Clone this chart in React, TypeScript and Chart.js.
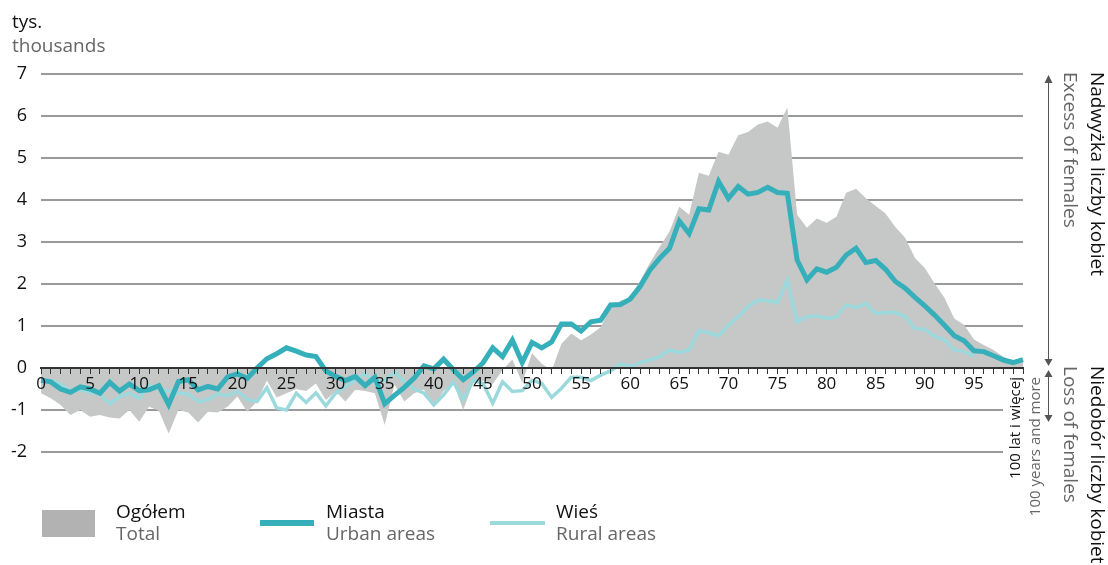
import React, { useEffect, useRef } from "react";
import { Chart, registerables } from "chart.js";

Chart.register(...registerables);

// Age groups 0..100 (100 = "100 lat i więcej")
const AGES: number[] = Array.from({ length: 101 }, (_, i) => i);
const AGE_LABELS: string[] = AGES.map((a) => String(a));

// Miasta / Urban areas (thousands)
const URBAN: number[] = [
  -0.29, -0.33, -0.5, -0.58, -0.45, -0.5, -0.6, -0.34, -0.55, -0.38, -0.54,
  -0.52, -0.42, -0.87, -0.32, -0.28, -0.52, -0.44, -0.5, -0.21, -0.14,
  -0.25, 0.0, 0.22, 0.34, 0.48, 0.4, 0.31, 0.27, -0.07, -0.2,
  -0.3, -0.2, -0.42, -0.22, -0.85, -0.65, -0.46, -0.24, 0.05, -0.02,
  0.21, -0.04, -0.28, -0.1, 0.12, 0.48, 0.27, 0.66, 0.13, 0.61,
  0.48, 0.62, 1.05, 1.05, 0.88, 1.1, 1.14, 1.5, 1.51, 1.64,
  1.94, 2.33, 2.61, 2.85, 3.5, 3.2, 3.79, 3.76, 4.44, 4.04,
  4.32, 4.14, 4.18, 4.3, 4.18, 4.16, 2.57, 2.1, 2.36, 2.28,
  2.4, 2.69, 2.85, 2.51, 2.56, 2.35, 2.06, 1.9, 1.68, 1.48,
  1.26, 1.02, 0.77, 0.65, 0.41, 0.39, 0.29, 0.19, 0.13, 0.2,
];

// Wieś / Rural areas (thousands)
const RURAL: (number | null)[] = [
  -0.3, -0.3, -0.38, -0.55, -0.52, -0.58, -0.62, -0.85, -0.68, -0.6, -0.72,
  -0.41, -0.5, -0.55, -0.6, -0.62, -0.8, -0.75, -0.62, -0.66, -0.55,
  -0.75, -0.8, -0.47, -0.95, -1.0, -0.6, -0.82, -0.59, -0.9, -0.6,
  -0.44, -0.3, -0.13, -0.35, -0.3, -0.1, -0.33, -0.5, -0.6, -0.88,
  -0.64, -0.33, -0.76, -0.29, -0.37, -0.84, -0.33, -0.56, -0.54, -0.29,
  -0.37, -0.7, -0.48, -0.22, -0.22, -0.3, -0.17, -0.07, 0.1, 0.03,
  0.13, 0.19, 0.27, 0.43, 0.37, 0.43, 0.89, 0.84, 0.76, 1.02,
  1.22, 1.46, 1.62, 1.6, 1.56, 2.1, 1.1, 1.22, 1.24, 1.18,
  1.22, 1.5, 1.44, 1.54, 1.3, 1.32, 1.32, 1.22, 0.94, 0.92,
  0.76, 0.67, 0.43, 0.39, 0.29, null, null, null, null, null,
];

// Ogółem / Total (thousands)
const TOTAL: number[] = [
  -0.6, -0.72, -0.88, -1.12, -1.0, -1.16, -1.12, -1.18, -1.2, -1.0, -1.28,
  -0.92, -1.02, -1.56, -1.0, -1.06, -1.3, -1.04, -1.06, -0.92, -0.68,
  -1.04, -0.8, -0.3, -0.7, -0.6, -0.5, -0.55, -0.37, -0.76, -0.56,
  -0.8, -0.52, -0.55, -0.6, -1.36, -0.4, -0.8, -0.6, -0.52, -0.92,
  -0.55, -0.36, -1.0, -0.36, -0.3, -0.38, -0.05, 0.2, -0.35, 0.35,
  0.1, -0.06, 0.58, 0.82, 0.66, 0.8, 0.97, 1.45, 1.6, 1.67,
  2.07, 2.5, 2.88, 3.25, 3.84, 3.65, 4.65, 4.58, 5.15, 5.08,
  5.54, 5.62, 5.8, 5.87, 5.72, 6.2, 3.65, 3.34, 3.56, 3.46,
  3.6, 4.17, 4.27, 4.04, 3.86, 3.68, 3.36, 3.1, 2.62, 2.38,
  2.01, 1.67, 1.18, 1.03, 0.68, 0.55, 0.43, 0.27, 0.15, 0.19,
];

const Y_MIN = -2;
const Y_MAX = 7;

const FONT = "'Open Sans', 'Noto Sans', sans-serif";
const URBAN_COLOR = "#35afb9";
const RURAL_COLOR = "#9cd9dd";
const TOTAL_COLOR = "#c6c7c7";
const LEGEND_GRAY = "#b2b2b2";
const SUB_COLOR = "#666666";
const TEXT_COLOR = "#111111";

export default function App() {
  const canvasRef = useRef<HTMLCanvasElement | null>(null);

  useEffect(() => {
    const canvas = canvasRef.current;
    if (!canvas) return;
    const chart = new Chart(canvas, {
      type: "line",
      data: {
        labels: AGE_LABELS,
        datasets: [
          {
            label: "Miasta",
            data: URBAN,
            borderColor: URBAN_COLOR,
            borderWidth: 5,
            pointRadius: 0,
            fill: false,
            order: 1,
          },
          {
            label: "Wieś",
            data: RURAL,
            borderColor: RURAL_COLOR,
            borderWidth: 3.5,
            pointRadius: 0,
            fill: false,
            order: 2,
          },
          {
            label: "Ogółem",
            data: TOTAL,
            borderColor: "rgba(0,0,0,0)",
            borderWidth: 0,
            backgroundColor: TOTAL_COLOR,
            pointRadius: 0,
            fill: "origin",
            order: 3,
          },
        ],
      },
      options: {
        responsive: false,
        animation: false,
        devicePixelRatio: 1,
        events: [],
        layout: { padding: { left: 0, right: 85, top: 74, bottom: 113 } },
        plugins: {
          legend: { display: false },
          tooltip: { enabled: false },
        },
        scales: {
          x: {
            type: "category",
            position: { y: 0 } as any,
            offset: false,
            grid: {
              display: true,
              drawOnChartArea: false,
              drawTicks: true,
              tickLength: 5,
              tickColor: "#333333",
              tickWidth: 1,
              z: 1,
            },
            border: { display: true, color: "#333333", width: 2, z: 1 },
            ticks: {
              autoSkip: false,
              maxRotation: 0,
              minRotation: 0,
              padding: 1,
              color: TEXT_COLOR,
              font: { family: FONT, size: 17 },
              z: 1,
              callback: (_v: any, i: number) =>
                i % 5 === 0 && i < 100 ? AGE_LABELS[i] : "",
            },
          },
          y: {
            min: Y_MIN,
            max: Y_MAX,
            ticks: {
              stepSize: 1,
              padding: 14,
              color: TEXT_COLOR,
              font: { family: FONT, size: 18 },
            },
            grid: { color: "#9a9a9a", lineWidth: 2, drawTicks: false },
            border: { display: false },
            afterFit: (s: any) => {
              s.width = 41;
            },
          },
        },
      },
    });
    return () => chart.destroy();
  }, []);

  const abs = (s: React.CSSProperties): React.CSSProperties => ({
    position: "absolute",
    whiteSpace: "nowrap",
    fontFamily: FONT,
    ...s,
  });

  return (
    <div
      style={{
        position: "fixed",
        left: 0,
        top: 0,
        width: 1108,
        height: 565,
        background: "#ffffff",
        overflow: "hidden",
      }}
    >
      <canvas
        ref={canvasRef}
        width={1108}
        height={565}
        style={{ position: "absolute", left: 0, top: 0, width: 1108, height: 565 }}
      />

      {/* unit label */}
      <div style={abs({ left: 12, top: 9, fontSize: 19, lineHeight: "24px" })}>
        <div style={{ color: TEXT_COLOR }}>tys.</div>
        <div style={{ color: SUB_COLOR }}>thousands</div>
      </div>

      {/* white patch behind "100+" label */}
      <div style={abs({ left: 1003, top: 377, width: 21, height: 84, background: "#ffffff" })} />

      {/* 100 lat i więcej */}
      <div
        style={abs({
          left: 1004,
          top: 537,
          width: 160,
          textAlign: "right",
          fontSize: 15,
          lineHeight: "20px",
          transform: "rotate(-90deg)",
          transformOrigin: "0 0",
        })}
      >
        <div style={{ color: TEXT_COLOR }}>100 lat i więcej</div>
        <div style={{ color: SUB_COLOR }}>100 years and more</div>
      </div>

      {/* right-side annotations */}
      <div
        style={abs({
          left: 1111,
          top: 72,
          fontSize: 19,
          lineHeight: "27px",
          transform: "rotate(90deg)",
          transformOrigin: "0 0",
        })}
      >
        <div style={{ color: TEXT_COLOR }}>Nadwyżka liczby kobiet</div>
        <div style={{ color: SUB_COLOR }}>Excess of females</div>
      </div>
      <div
        style={abs({
          left: 1111,
          top: 366,
          fontSize: 19,
          lineHeight: "27px",
          transform: "rotate(90deg)",
          transformOrigin: "0 0",
        })}
      >
        <div style={{ color: TEXT_COLOR }}>Niedobór liczby kobiet</div>
        <div style={{ color: SUB_COLOR }}>Loss of females</div>
      </div>

      {/* arrows */}
      <svg
        width={20}
        height={360}
        style={{ position: "absolute", left: 1038, top: 70 }}
        viewBox="1038 70 20 360"
      >
        <line x1={1048.5} y1={82} x2={1048.5} y2={360} stroke="#555" strokeWidth={1} />
        <polygon points="1044.5,83 1052.5,83 1048.5,75" fill="#555" />
        <polygon points="1044.5,359 1052.5,359 1048.5,366" fill="#555" />
        <line x1={1048.5} y1={376} x2={1048.5} y2={416} stroke="#555" strokeWidth={1} />
        <polygon points="1044.5,377 1052.5,377 1048.5,370" fill="#555" />
        <polygon points="1044.5,415 1052.5,415 1048.5,422" fill="#555" />
      </svg>

      {/* legend */}
      <div style={abs({ left: 42, top: 510, width: 53, height: 27, background: LEGEND_GRAY })} />
      <div style={abs({ left: 116, top: 500, fontSize: 19, lineHeight: "22px" })}>
        <div style={{ color: TEXT_COLOR }}>Ogółem</div>
        <div style={{ color: SUB_COLOR }}>Total</div>
      </div>
      <div style={abs({ left: 260, top: 520, width: 54, height: 6, background: URBAN_COLOR })} />
      <div style={abs({ left: 326, top: 500, fontSize: 19, lineHeight: "22px" })}>
        <div style={{ color: TEXT_COLOR }}>Miasta</div>
        <div style={{ color: SUB_COLOR }}>Urban areas</div>
      </div>
      <div style={abs({ left: 490, top: 521, width: 55, height: 4, background: RURAL_COLOR })} />
      <div style={abs({ left: 556, top: 500, fontSize: 19, lineHeight: "22px" })}>
        <div style={{ color: TEXT_COLOR }}>Wieś</div>
        <div style={{ color: SUB_COLOR }}>Rural areas</div>
      </div>
    </div>
  );
}
